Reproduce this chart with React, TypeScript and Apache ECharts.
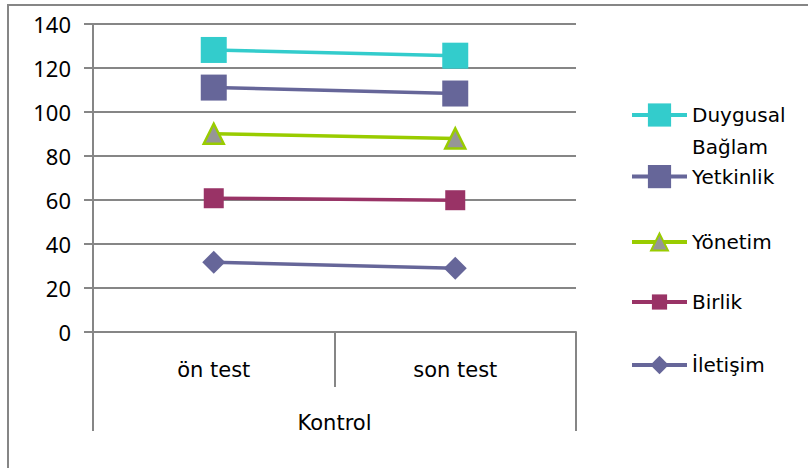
import React, { useEffect, useRef } from "react";
import * as echarts from "echarts";

const categories = ["ön test", "son test"];
const groupLabels = ["Kontrol"];
const yTicks = [0, 20, 40, 60, 80, 100, 120, 140];

const duygusalBaglam = [128.2, 125.6];
const yetkinlik = [111.1, 108.4];
const yonetim = [90.1, 88.0];
const birlik = [60.8, 59.9];
const iletisim = [31.7, 29.0];

const seriesNames = ["Duygusal Bağlam", "Yetkinlik", "Yönetim", "Birlik", "İletişim"];

const FONT = "'Noto Sans', 'Open Sans', sans-serif";
const WIDE_FONT = "'DejaVu Sans', 'Noto Sans', sans-serif";
const GRID_COLOR = "#868686";

export default function App() {
  const ref = useRef<HTMLDivElement>(null);

  useEffect(() => {
    if (!ref.current) return;
    const chart = echarts.init(ref.current, undefined, { renderer: "svg" });

    const seriesDefs = [
      { name: seriesNames[0], data: duygusalBaglam, color: "#33CCCC", symbol: "rect", size: 26, fill: "#33CCCC", border: "#33CCCC", legendH: 29, legendCenter: 121 },
      { name: seriesNames[1], data: yetkinlik, color: "#666699", symbol: "rect", size: 26, fill: "#666699", border: "#666699", legendH: 29, legendCenter: 181 },
      { name: seriesNames[2], data: yonetim, color: "#99CC00", symbol: "triangle", size: 20, fill: "#969696", border: "#99CC00", legendH: 21, legendCenter: 248 },
      { name: seriesNames[3], data: birlik, color: "#993366", symbol: "rect", size: 20, fill: "#993366", border: "#993366", legendH: 19, legendCenter: 308 },
      { name: seriesNames[4], data: iletisim, color: "#666699", symbol: "diamond", size: 23, fill: "#666699", border: "#666699", legendH: 23, legendCenter: 371 },
    ];

    const LINE_H = 32;
    const legends = seriesDefs.map((s, i) => {
      const multi = i === 0;
      const textBlockH = multi ? LINE_H * 3 : LINE_H;
      const h = Math.max(s.legendH, textBlockH);
      return {
        data: [s.name],
        orient: "vertical",
        left: 630,
        padding: 0,
        itemWidth: 55,
        itemHeight: s.legendH,
        lineStyle: { width: 4 },
        selectedMode: false,
        top: s.legendCenter - h / 2,
        // the first name wraps; an empty leading line keeps "Duygusal" level with its icon
        formatter: multi ? "{t| }\n{t|Duygusal}\n{t|Bağlam}" : "{t|{name}}",
        textStyle: {
          fontSize: 20,
          fontFamily: WIDE_FONT,
          color: "#000",
          rich: { t: { fontSize: 20, fontFamily: WIDE_FONT, color: "#000", lineHeight: LINE_H } },
        },
      };
    });

    chart.setOption({
      animation: false,
      backgroundColor: "#fff",
      graphic: [
        {
          type: "rect",
          shape: { x: 7, y: 4, width: 801, height: 2 },
          style: { fill: GRID_COLOR },
          silent: true,
          z: 100,
        },
        {
          type: "rect",
          shape: { x: 7, y: 4, width: 2, height: 464 },
          style: { fill: GRID_COLOR },
          silent: true,
          z: 100,
        },
      ],
      legend: legends,
      grid: { left: 93, right: 232, top: 24, bottom: 136 },
      xAxis: [
        {
          type: "category",
          data: categories,
          position: "bottom",
          boundaryGap: true,
          axisLine: { show: true, lineStyle: { color: GRID_COLOR, width: 2 } },
          axisTick: { show: true, length: 55, lineStyle: { color: GRID_COLOR, width: 2 } },
          axisLabel: { margin: 27, fontSize: 21, fontFamily: WIDE_FONT, color: "#000" },
        },
        {
          type: "category",
          data: groupLabels,
          position: "bottom",
          offset: 55,
          boundaryGap: true,
          axisLine: { show: false },
          axisTick: { show: true, length: 44, lineStyle: { color: GRID_COLOR, width: 2 } },
          axisLabel: { margin: 25, fontSize: 21, fontFamily: WIDE_FONT, color: "#000" },
        },
      ],
      yAxis: {
        type: "value",
        min: yTicks[0],
        max: yTicks[yTicks.length - 1],
        interval: 20,
        axisLine: { show: true, lineStyle: { color: GRID_COLOR, width: 2 } },
        axisTick: { show: true, length: 9, lineStyle: { color: GRID_COLOR, width: 2 } },
        axisLabel: { margin: 22, fontSize: 22, fontFamily: FONT, color: "#000" },
        splitLine: { show: true, lineStyle: { color: GRID_COLOR, width: 2 } },
      },
      series: seriesDefs.map((s) => ({
        name: s.name,
        type: "line",
        xAxisIndex: 0,
        data: s.data,
        symbol: s.symbol,
        symbolSize: s.size,
        lineStyle: { color: s.color, width: 3.5 },
        itemStyle: {
          color: s.fill,
          borderColor: s.border,
          borderWidth: s.symbol === "triangle" ? 2.5 : 0,
        },
        emphasis: { disabled: true },
      })),
    });

    return () => chart.dispose();
  }, []);

  return (
    <div
      ref={ref}
      style={{ position: "fixed", left: 0, top: 0, width: 808, height: 468 }}
    />
  );
}
